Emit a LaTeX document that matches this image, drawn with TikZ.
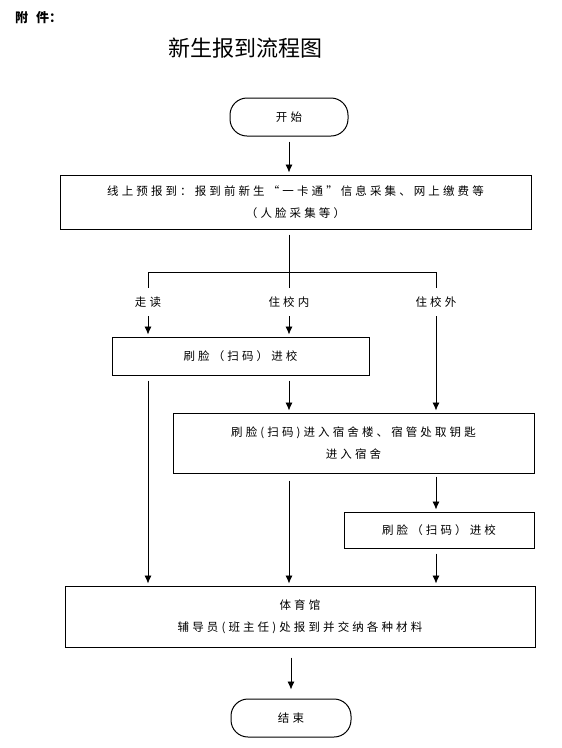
\documentclass[tikz,border=0pt]{standalone}
\usepackage{fontspec}
\usetikzlibrary{arrows.meta,positioning,calc}
\newfontfamily\cjk{Noto Sans CJK SC}
\newfontfamily\cjkwide[LetterSpace=27]{Noto Sans CJK SC}
\definecolor{ink}{HTML}{000000}

\begin{document}
\begin{tikzpicture}[x=1pt,y=-1pt,
  box/.style={draw=ink,line width=1pt,inner sep=0pt,align=center,
              font=\cjkwide\fontsize{11.5}{22.5}\selectfont},
  term/.style={box,rounded corners=17pt},
  tag/.style={inner sep=0pt,minimum height=28pt,
              font=\cjkwide\fontsize{11.5}{14}\selectfont},
  flow/.style={-{Latex[length=8pt,width=7pt]},ink,line width=0.8pt,
               shorten <=5pt,shorten >=2pt},
  rule/.style={ink,line width=0.8pt}]
  \fill[white] (0,0) rectangle (562,748);
  \useasboundingbox (0,0) rectangle (562,748);
  % heading
  \node[anchor=west,inner sep=0pt,font=\cjk\bfseries\fontsize{13}{15}\selectfont] (att) at (15,18) {附\hspace{8pt}件：};
  \node[font=\cjk\fontsize{22}{26}\selectfont] (title) at (245,48) {新生报到流程图};
  % boxes
  \node[term,minimum width=118pt,minimum height=38pt] (start) at (289,117) {开始};
  \node[box,minimum width=471pt,minimum height=54pt] (online) at (295.5,202)
      {线上预报到：报到前新生“一卡通”信息采集、网上缴费等\\（人脸采集等）};
  \node[tag] (walk) at (148,302) {走读};
  \node[tag] (inner) at (289,302) {住校内};
  \node[tag] (outer) at (436,302) {住校外};
  \node[box,minimum width=257pt,minimum height=38pt] (gate1) at (240.5,356) {刷脸（扫码）进校};
  \node[box,minimum width=361pt,minimum height=60pt] (dorm) at (353.5,443)
      {刷脸(扫码)进入宿舍楼、宿管处取钥匙\\进入宿舍};
  \node[box,minimum width=190pt,minimum height=36pt] (gate2) at (439,530) {刷脸（扫码）进校};
  \node[box,minimum width=470pt,minimum height=61pt] (gym) at (300,616.5)
      {体育馆\\辅导员(班主任)处报到并交纳各种材料};
  \node[term,minimum width=120pt,minimum height=38pt] (finish) at (291,718) {结束};
  \coordinate (fork) at (289,272);
  % connectors
  \draw[flow] (start.south) -- (online.north -| start.south);
  \draw[rule,shorten <=5pt] (online.south -| fork) -- (fork);
  \draw[rule] (walk |- fork) -- (outer |- fork);
  \draw[rule] (walk |- fork) -- (walk.north);
  \draw[rule] (fork) -- (inner.north);
  \draw[rule] (outer |- fork) -- (outer.north);
  \draw[flow,shorten <=0pt] (walk.south) -- (gate1.north -| walk);
  \draw[flow,shorten <=0pt] (inner.south) -- (gate1.north -| inner);
  \draw[flow,shorten <=0pt] (outer.south) -- (dorm.north -| outer);
  \draw[flow] (gate1.south -| walk) -- (gym.north -| walk);
  \draw[flow] (gate1.south -| inner) -- (dorm.north -| inner);
  \draw[flow,shorten <=7pt] (dorm.south -| inner) -- (gym.north -| inner);
  \draw[flow,shorten <=3pt] (dorm.south -| outer) -- (gate2.north -| outer);
  \draw[flow] (gate2.south -| outer) -- (gym.north -| outer);
  \draw[flow,shorten <=10pt,shorten >=9pt] (gym.south -| finish) -- (finish.north);
\end{tikzpicture}
\end{document}
